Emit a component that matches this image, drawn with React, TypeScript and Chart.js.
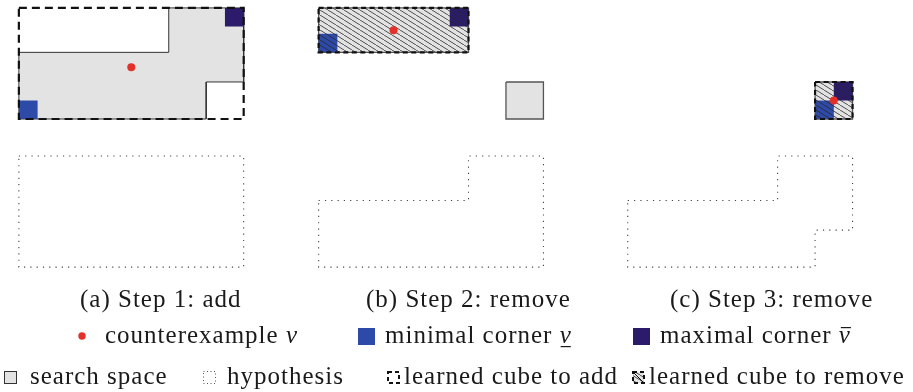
import { useEffect, useRef } from "react";
import { Chart, registerables } from "chart.js";

Chart.register(...registerables);

type Pt = [number, number];

// ---------- data (grid units, y grows downward) ----------
const CAPTIONS = ["(a) Step 1: add", "(b) Step 2: remove", "(c) Step 3: remove"];
const PANEL_OFFSETS = [0, 8, 16.25]; // x offset of each panel, grid units
const HYP_OFFSET = 4; // y offset of the hypothesis row, grid units

const searchSpaceA: Pt[] = [[0, 1.2], [4, 1.2], [4, 0], [6, 0], [6, 2], [5, 2], [5, 3], [0, 3]];
const searchSpaceB: Pt[][] = [[[0, 0], [4, 0], [4, 1.2], [0, 1.2]], [[5, 2], [6, 2], [6, 3], [5, 3]]];
const searchSpaceC: Pt[] = [[5, 2], [6, 2], [6, 3], [5, 3]];
const learnedAddA: Pt[] = [[0, 0], [6, 0], [6, 3], [0, 3]];
const learnedRemoveB: Pt[] = [[0, 0], [4, 0], [4, 1.2], [0, 1.2]];
const learnedRemoveC: Pt[] = [[5, 2], [6, 2], [6, 3], [5, 3]];
const hypothesisA: Pt[] = [[0, 0], [6, 0], [6, 3], [0, 3]];
const hypothesisB: Pt[] = [[0, 1.2], [4, 1.2], [4, 0], [6, 0], [6, 3], [0, 3]];
const hypothesisC: Pt[] = [[0, 1.2], [4, 1.2], [4, 0], [6, 0], [6, 2], [5, 2], [5, 3], [0, 3]];
const counterexamples: Pt[] = [[3, 1.6], [2, 0.6], [5.5, 2.5]];
const minCorners: Pt[] = [[0, 2.5], [0, 0.7], [5, 2.5]]; // top-left of each corner cube
const maxCorners: Pt[] = [[5.5, 0], [3.5, 0], [5.5, 2]];
const CORNER_SIZE = 0.5;

const LEGEND_ROW1 = ["counterexample ", "minimal corner ", "maximal corner "];
const LEGEND_ROW1_MARK = ["none", "under", "over"];
const LEGEND_ROW2 = ["search space", "hypothesis", "learned cube to add", "learned cube to remove"];

// ---------- styling / layout ----------
const W = 913;
const H = 392;
const UNIT_PX = 37.8;
const ORIGIN_PX: Pt = [15, 4];
const GREY = "#e3e3e3";
const BLUE = "#2e4aa8";
const PURPLE = "#2c1b6b";
const RED = "#e3312a";
const INK = "#1a1a1a";
const FONT = '"Liberation Serif", "DejaVu Serif", serif';
const FS = 25;

function closed(poly: Pt[], panel: number, dy = 0) {
  const pts = poly.map(([x, y]) => ({ x: x + PANEL_OFFSETS[panel], y: y + dy }));
  pts.push({ ...pts[0] });
  return pts;
}
function square(p: Pt, s: number): Pt[] {
  return [[p[0], p[1]], [p[0] + s, p[1]], [p[0] + s, p[1] + s], [p[0], p[1] + s]];
}

function makeHatch(bg: string | null) {
  const c = document.createElement("canvas");
  c.width = 8;
  c.height = 5;
  const g = c.getContext("2d")!;
  if (bg) {
    g.fillStyle = bg;
    g.fillRect(0, 0, 8, 5);
  }
  g.strokeStyle = "#2a2a2a";
  g.lineWidth = 0.8;
  g.beginPath();
  for (const dx of [-8, 0, 8]) {
    g.moveTo(dx, 0);
    g.lineTo(dx + 8, 5);
  }
  g.stroke();
  return g.createPattern(c, "repeat")!;
}

function poly(data: any[], o: any, layer: number) {
  return {
    type: "line",
    data,
    order: -layer,
    borderColor: o.stroke ?? "rgba(0,0,0,0)",
    borderWidth: o.width ?? 1,
    borderDash: o.dash ?? [],
    backgroundColor: o.fill ?? "rgba(0,0,0,0)",
    fill: o.fill ? "shape" : false,
    pointRadius: 0,
    pointHoverRadius: 0,
    tension: 0,
    borderJoinStyle: "miter",
  };
}

export default function App() {
  const ref = useRef<HTMLCanvasElement | null>(null);
  useEffect(() => {
    const canvas = ref.current!;
    const hatchLines = makeHatch(null);
    const hatchIcon = makeHatch(GREY);
    const ds: any[] = [];

    // search space fills
    ds.push(poly(closed(searchSpaceA, 0), { fill: GREY, stroke: "#333", width: 1 }, 0));
    searchSpaceB.forEach((p) => ds.push(poly(closed(p, 1), { fill: GREY, stroke: "#555", width: 1.3 }, 0)));
    ds.push(poly(closed(searchSpaceC, 2), { fill: GREY, stroke: "#555", width: 1.3 }, 0));
    // corners
    minCorners.forEach((p, i) => ds.push(poly(closed(square(p, CORNER_SIZE), i), { fill: BLUE }, 1)));
    maxCorners.forEach((p, i) => ds.push(poly(closed(square(p, CORNER_SIZE), i), { fill: PURPLE }, 1)));
    // hatch
    ds.push(poly(closed(learnedRemoveB, 1), { fill: hatchLines }, 2));
    ds.push(poly(closed(learnedRemoveC, 2), { fill: hatchLines }, 2));
    // learned cube borders
    ds.push(poly(closed(learnedAddA, 0), { stroke: "#111", width: 2.2, dash: [8, 5] }, 3));
    ds.push(poly(closed(learnedRemoveB, 1), { stroke: "#111", width: 2.2, dash: [5, 3.5] }, 3));
    ds.push(poly(closed(learnedRemoveC, 2), { stroke: "#111", width: 2.2, dash: [5, 3.5] }, 3));
    // hypotheses
    [hypothesisA, hypothesisB, hypothesisC].forEach((p, i) =>
      ds.push(poly(closed(p, i, HYP_OFFSET), { stroke: "#444", width: 1.1, dash: [1.2, 5.1] }, 4))
    );
    // counterexamples
    ds.push({
      type: "scatter",
      data: counterexamples.map(([x, y], i) => ({ x: x + PANEL_OFFSETS[i], y })),
      order: -5,
      pointRadius: [4, 4, 4],
      pointHoverRadius: 0,
      backgroundColor: RED,
      borderWidth: 0,
      showLine: false,
    });

    const textPlugin = {
      id: "texts",
      afterDraw(chart: any) {
        const ctx: CanvasRenderingContext2D = chart.ctx;
        ctx.save();
        (ctx as any).letterSpacing = "1px";
        ctx.fillStyle = INK;
        ctx.textBaseline = "alphabetic";
        ctx.textAlign = "left";
        const reg = `${FS}px ${FONT}`;
        const ital = `italic ${FS}px ${FONT}`;
        ctx.font = reg;
        const capX = [80, 366, 670];
        CAPTIONS.forEach((c, i) => ctx.fillText(c, capX[i], 307));

        // row 1 markers
        const y1 = 343;
        ctx.fillStyle = RED;
        ctx.beginPath();
        ctx.arc(82, 336, 3.7, 0, Math.PI * 2);
        ctx.fill();
        ctx.fillStyle = BLUE;
        ctx.fillRect(358, 328, 17, 17);
        ctx.fillStyle = PURPLE;
        ctx.fillRect(633, 328, 17, 17);
        // row 1 labels
        const r1x = [105, 385, 660];
        LEGEND_ROW1.forEach((t, i) => {
          ctx.fillStyle = INK;
          ctx.font = reg;
          ctx.fillText(t, r1x[i], y1);
          const vx = r1x[i] + ctx.measureText(t).width;
          ctx.font = ital;
          ctx.fillText("v", vx, y1);
          const vw = ctx.measureText("v").width - 1;
          if (LEGEND_ROW1_MARK[i] === "under") ctx.fillRect(vx + 1, y1 + 3, vw - 1, 1.2);
          if (LEGEND_ROW1_MARK[i] === "over") ctx.fillRect(vx + 2, y1 - 16, vw - 1, 1.2);
        });

        // row 2 labels
        ctx.font = reg;
        ctx.fillStyle = INK;
        const y2 = 384;
        const r2x = [30, 227, 404, 649];
        LEGEND_ROW2.forEach((t, i) => ctx.fillText(t, r2x[i], y2));
        // row 2 icons
        ctx.fillStyle = GREY;
        ctx.fillRect(4, 371, 13, 13);
        ctx.strokeStyle = "#333";
        ctx.lineWidth = 1;
        ctx.strokeRect(4.5, 371.5, 12, 12);
        ctx.strokeStyle = "#555";
        ctx.setLineDash([1, 2.5]);
        ctx.strokeRect(203.5, 371.5, 12, 12);
        ctx.setLineDash([4, 3]);
        ctx.lineWidth = 2;
        ctx.strokeStyle = "#111";
        ctx.strokeRect(388, 372, 11, 11);
        ctx.fillStyle = hatchIcon;
        ctx.fillRect(633, 372, 11, 11);
        ctx.beginPath();
        ctx.moveTo(633, 372);
        ctx.lineTo(644, 383);
        ctx.lineWidth = 1;
        ctx.setLineDash([]);
        ctx.stroke();
        ctx.lineWidth = 2;
        ctx.setLineDash([4, 3]);
        ctx.strokeRect(633, 372, 11, 11);
        ctx.restore();
      },
    };

    const chart = new Chart(canvas, {
      type: "line",
      data: { datasets: ds },
      options: {
        animation: false,
        responsive: false,
        devicePixelRatio: 1,
        events: [],
        layout: { padding: 0 },
        plugins: { legend: { display: false }, tooltip: { enabled: false }, title: { display: false } },
        scales: {
          x: {
            type: "linear",
            display: false,
            min: -ORIGIN_PX[0] / UNIT_PX,
            max: (W - ORIGIN_PX[0]) / UNIT_PX,
          },
          y: {
            type: "linear",
            display: false,
            reverse: true,
            min: -ORIGIN_PX[1] / UNIT_PX,
            max: (H - ORIGIN_PX[1]) / UNIT_PX,
          },
        },
      } as any,
      plugins: [textPlugin],
    } as any);
    return () => chart.destroy();
  }, []);

  return (
    <div style={{ position: "fixed", left: 0, top: 0, width: W, height: H, background: "#fff" }}>
      <canvas ref={ref} width={W} height={H} style={{ width: W, height: H, display: "block" }} />
    </div>
  );
}
